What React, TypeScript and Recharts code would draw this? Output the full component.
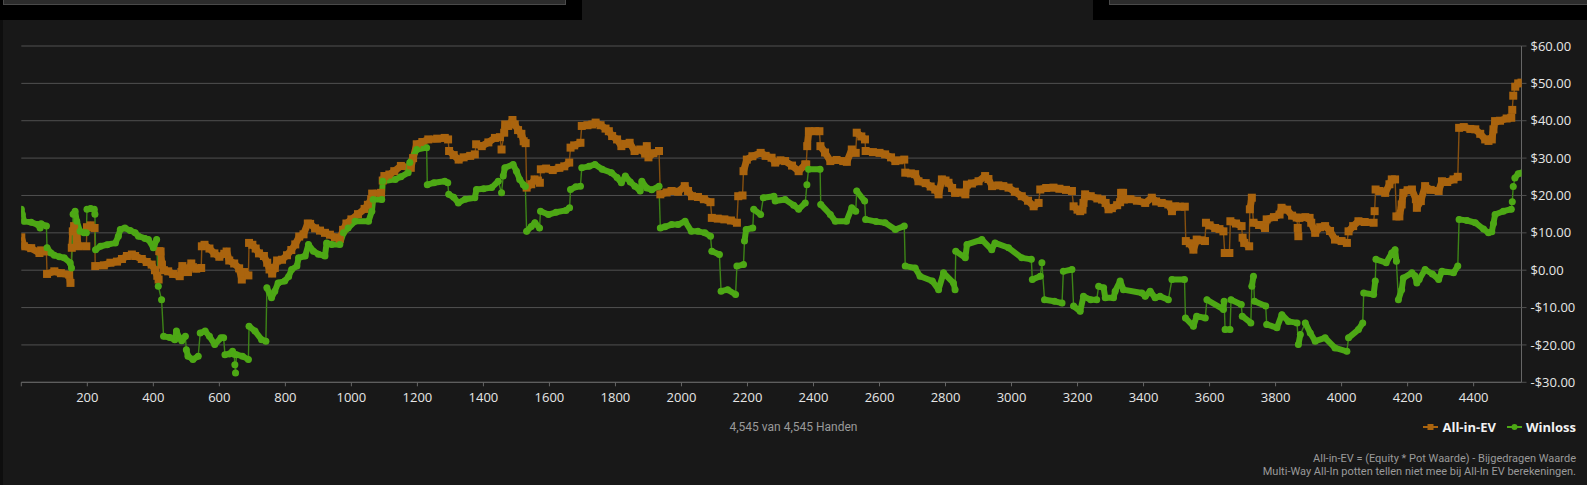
import { CartesianGrid, Legend, Line, LineChart, XAxis, YAxis } from 'recharts'

const EV_COLOR = '#aa640e'
const EV_LINK = '#87500f'
const WIN_COLOR = '#4da815'
const WIN_LINK = '#3d8417'

const HAND_TICKS = [0, 200, 400, 600, 800, 1000, 1200, 1400, 1600, 1800, 2000, 2200, 2400, 2600, 2800, 3000, 3200, 3400, 3600, 3800, 4000, 4200, 4400]
const DOLLAR_TICKS = [-30, -20, -10, 0, 10, 20, 30, 40, 50, 60]

// each run is a stretch of consecutive all-in hands; a new run starts after a big jump
const EV_RUNS: [number, number][][] = [
  [[0, 8.8], [8, 6.4], [30, 5.9], [55, 4.6], [60, 5.3], [76, 5.0]],
  [[78, -1.0], [100, -0.3], [120, -0.8], [145, -1.2], [149, -3.4]],
  [[153, 6.0], [156, 10.4], [160, 11.8], [168, 9.0], [173, 6.4], [197, 6.4]],
  [[199, 11.5], [210, 12.0], [222, 11.3]],
  [[224, 1.1], [250, 1.3], [270, 2.0], [290, 2.3], [305, 3.0], [320, 3.8], [335, 4.2], [345, 3.8], [365, 3.0], [380, 2.2], [395, 1.5], [405, 0.0], [412, -1.5], [416, -2.5]],
  [[418, 5.1], [422, 5.0], [426, 1.5], [432, 0.0], [445, -0.3], [460, -1.0], [480, -1.6], [485, -0.5], [488, 1.1], [495, 0.5], [505, -0.5], [515, 1.8], [520, 0.8], [530, 0.4], [545, 0.6]],
  [[547, 6.4], [555, 6.8], [570, 5.8], [585, 4.5], [600, 3.6], [615, 4.4], [622, 5.0], [630, 2.6], [645, 1.8], [660, 0.5], [668, -2.5], [675, -0.5], [688, -1.4]],
  [[690, 7.3], [700, 6.8], [710, 5.8], [720, 4.5], [735, 3.8], [745, 2.0], [752, 0.2], [760, -0.9], [768, 0.6], [775, 2.6], [790, 2.8], [805, 4.0], [818, 5.4], [830, 6.9], [842, 9.0], [855, 9.6], [868, 12.5], [875, 12.4], [890, 11.2], [905, 10.6], [920, 10.0], [935, 9.5], [950, 8.8], [965, 8.4], [975, 10.8], [985, 12.5], [1000, 13.6], [1020, 15.0], [1040, 16.4], [1050, 17.5], [1060, 19.0]],
  [[1063, 20.5], [1090, 20.7]],
  [[1095, 24.0], [1100, 25.2], [1115, 25.6], [1130, 26.5], [1150, 27.9], [1180, 27.4], [1187, 30.0], [1198, 33.7], [1215, 34.3], [1233, 35.0], [1260, 35.2], [1283, 35.4], [1293, 35.0]],
  [[1296, 31.9], [1310, 30.8], [1325, 29.6], [1340, 30.2], [1360, 30.6], [1374, 31.0]],
  [[1378, 33.7], [1395, 33.2], [1415, 34.2], [1435, 35.4], [1450, 35.6]],
  [[1455, 32.3]],
  [[1463, 36.8], [1466, 39.0], [1475, 38.6], [1488, 40.2], [1495, 39.0], [1505, 37.5], [1515, 36.5], [1522, 34.5], [1528, 34.0]],
  [[1531, 22.1], [1545, 23.0], [1555, 24.3], [1565, 24.0], [1571, 23.4]],
  [[1574, 27.0], [1590, 27.2], [1610, 26.8], [1630, 27.4], [1645, 27.8], [1660, 28.8]],
  [[1664, 32.8], [1675, 33.4], [1694, 34.1]],
  [[1698, 38.6], [1715, 38.8], [1730, 39.0], [1740, 39.5], [1755, 38.8], [1770, 37.9], [1780, 37.2], [1790, 35.9], [1805, 35.0], [1818, 33.2], [1830, 33.8], [1843, 34.1], [1858, 31.9], [1875, 32.3], [1890, 31.2], [1895, 33.2], [1900, 30.2], [1915, 31.3], [1932, 31.9]],
  [[1936, 20.3], [1955, 20.8], [1970, 21.2], [1990, 21.0], [2010, 22.5], [2020, 21.2], [2032, 19.8], [2050, 19.6], [2068, 19.0], [2088, 18.2]],
  [[2092, 14.0], [2110, 13.8], [2130, 13.6], [2150, 13.3], [2168, 12.7]],
  [[2172, 19.8], [2185, 20.0]],
  [[2188, 26.5], [2198, 29.6], [2215, 30.5], [2240, 31.4], [2255, 30.6], [2273, 30.1], [2284, 28.8], [2300, 29.4], [2314, 29.2], [2335, 28.0], [2355, 26.5], [2375, 28.3], [2378, 28.3]],
  [[2381, 33.2], [2386, 37.2], [2405, 37.2], [2418, 37.2]],
  [[2421, 33.2], [2435, 31.5], [2451, 29.2], [2470, 29.5], [2490, 29.2], [2501, 29.0], [2516, 32.3], [2528, 31.4]],
  [[2531, 36.8], [2545, 35.8], [2556, 35.0]],
  [[2558, 31.9], [2580, 31.6], [2600, 31.4], [2617, 31.0], [2635, 30.2], [2648, 29.2], [2660, 29.4], [2675, 29.6]],
  [[2678, 26.1], [2695, 25.9], [2708, 25.7], [2718, 23.8], [2740, 23.3], [2755, 22.4], [2769, 21.6], [2779, 20.3], [2789, 24.3], [2800, 24.0], [2809, 23.4], [2820, 22.0], [2829, 20.7], [2845, 20.8], [2860, 20.3], [2865, 22.9], [2880, 23.2], [2900, 23.8], [2920, 25.2], [2930, 24.4], [2941, 22.5], [2960, 22.7], [2975, 22.5], [2991, 22.1], [3010, 21.0], [3031, 19.8], [3050, 18.6], [3067, 17.1], [3082, 18.0]],
  [[3087, 21.6], [3105, 22.0], [3127, 22.1], [3145, 21.8], [3165, 21.5], [3183, 21.2]],
  [[3188, 17.1], [3200, 16.2], [3208, 15.8], [3215, 16.2], [3218, 18.0], [3223, 20.3], [3240, 19.8], [3260, 19.2], [3274, 18.9], [3285, 18.0], [3294, 16.3], [3304, 16.6], [3320, 17.4], [3329, 18.2], [3332, 20.7], [3338, 20.7], [3340, 18.9], [3360, 19.0], [3380, 18.6], [3405, 18.0], [3425, 19.4], [3438, 18.4], [3455, 18.0], [3475, 17.6], [3486, 15.8], [3496, 17.1], [3510, 17.0], [3525, 17.0]],
  [[3528, 7.8], [3540, 7.2], [3551, 5.5], [3561, 8.2], [3575, 8.0], [3586, 7.8]],
  [[3589, 12.7], [3600, 12.0], [3617, 11.3], [3630, 11.0], [3642, 10.4]],
  [[3646, 4.6], [3660, 4.6]],
  [[3663, 13.1], [3680, 12.5], [3697, 11.8]],
  [[3700, 8.7], [3705, 7.3], [3720, 6.4]],
  [[3722, 16.3], [3728, 19.4]],
  [[3733, 12.7], [3750, 12.1], [3768, 11.3], [3773, 13.6], [3795, 14.2], [3812, 14.9], [3818, 16.7], [3835, 16.2], [3850, 14.6], [3864, 14.1]],
  [[3867, 11.3], [3869, 9.1]],
  [[3872, 14.0], [3890, 14.2], [3903, 14.0], [3908, 12.7], [3920, 10.0], [3935, 11.5], [3950, 11.8], [3965, 10.5], [3980, 8.2], [4000, 7.8], [4016, 7.3]],
  [[4021, 10.4], [4035, 11.8], [4051, 13.1], [4070, 12.9], [4097, 12.7]],
  [[4100, 15.8]],
  [[4103, 21.6], [4115, 21.2], [4132, 20.7], [4145, 23.0], [4152, 24.3], [4162, 24.3]],
  [[4166, 14.4], [4175, 14.4], [4182, 17.6], [4187, 20.7], [4200, 21.4], [4213, 21.6], [4225, 19.0], [4228, 16.7], [4240, 18.5], [4253, 22.5], [4270, 21.5], [4294, 21.2], [4304, 23.8], [4320, 23.6], [4339, 24.3], [4352, 25.0]],
  [[4356, 38.1], [4370, 38.3], [4390, 37.8], [4405, 37.7], [4420, 36.5], [4435, 35.0], [4445, 34.6], [4455, 35.0], [4460, 37.7], [4465, 39.9], [4480, 40.0], [4500, 40.6], [4514, 40.8]],
  [[4517, 42.9]],
  [[4520, 46.7]],
  [[4526, 49.1], [4535, 50.0], [4545, 50.2]],
]

const WINLOSS_RUNS: [number, number][][] = [
  [[0, 16.3], [3, 15.0], [8, 13.1], [30, 12.8], [50, 12.2], [57, 11.3], [60, 12.4], [76, 11.8]],
  [[78, 6.0], [90, 4.6], [100, 4.0], [115, 3.6], [130, 3.3], [148, 2.0], [152, 0.6]],
  [[157, 15.0], [163, 15.8], [168, 13.1], [178, 10.4], [190, 10.0], [197, 10.0]],
  [[199, 16.3], [210, 16.5], [221, 16.3], [223, 15.0]],
  [[225, 5.5], [240, 6.4], [260, 6.8], [285, 7.3], [294, 9.1], [300, 10.9], [314, 11.3], [330, 10.6], [345, 10.0], [355, 9.1], [375, 8.5], [385, 8.2], [400, 6.0], [410, 8.2]],
  [[415, -4.3]],
  [[425, -7.9]],
  [[431, -17.7], [450, -18.0], [465, -18.6], [470, -16.3], [478, -18.0], [486, -18.9], [497, -17.7]],
  [[500, -21.3], [505, -23.0], [520, -23.9], [536, -23.0]],
  [[542, -16.8], [557, -16.3], [570, -17.7], [586, -19.9], [605, -18.1], [613, -18.1]],
  [[617, -22.6], [630, -22.4], [640, -21.7], [645, -22.5]],
  [[647, -25.3]],
  [[649, -27.5]],
  [[652, -22.6], [670, -23.0], [688, -23.9]],
  [[690, -15.0], [708, -16.3], [728, -18.6], [741, -19.0]],
  [[744, -4.7], [758, -7.4], [768, -5.6], [778, -3.4], [798, -2.9], [810, -1.7], [819, 0.2], [835, 1.1], [840, 3.3], [860, 3.8], [870, 6.9], [885, 5.1], [900, 4.3], [920, 3.8], [925, 7.3], [940, 6.9], [965, 6.9], [976, 10.0], [990, 11.3], [1011, 13.1], [1052, 13.1], [1062, 15.8], [1066, 18.9], [1092, 18.9], [1095, 23.8], [1133, 24.3], [1150, 25.0], [1172, 26.1], [1177, 28.8], [1198, 32.3], [1228, 32.8]],
  [[1230, 22.9], [1250, 23.4], [1283, 23.8], [1292, 23.4]],
  [[1295, 20.3], [1310, 19.5], [1324, 18.0], [1345, 19.0], [1374, 19.4], [1379, 21.6], [1400, 21.8], [1425, 22.1], [1445, 23.8]],
  [[1455, 20.7]],
  [[1460, 25.2], [1465, 27.4], [1490, 28.3], [1500, 26.5], [1510, 24.3], [1521, 22.9], [1527, 22.4]],
  [[1531, 10.4], [1545, 11.7], [1556, 12.7], [1570, 11.3]],
  [[1573, 15.8], [1597, 14.9], [1620, 15.5], [1650, 16.0], [1661, 16.7]],
  [[1664, 21.6], [1680, 22.3], [1694, 22.5]],
  [[1698, 27.4], [1720, 27.8], [1738, 28.3], [1760, 27.0], [1788, 26.1], [1805, 24.8], [1818, 23.4], [1830, 25.2], [1845, 23.6], [1859, 22.5], [1875, 21.2], [1880, 23.8], [1895, 22.0], [1910, 21.5], [1932, 22.5]],
  [[1936, 11.3], [1950, 11.6], [1970, 12.2], [1990, 12.2], [2011, 13.1], [2030, 10.4], [2050, 10.4], [2071, 10.0], [2088, 9.1]],
  [[2092, 5.1], [2115, 4.2]],
  [[2120, -5.6], [2140, -5.2], [2164, -6.5]],
  [[2168, 1.1], [2188, 1.5]],
  [[2191, 7.8], [2196, 10.9], [2216, 11.3]],
  [[2219, 16.3], [2240, 14.9]],
  [[2248, 19.4], [2280, 19.8], [2284, 18.5], [2314, 18.9], [2340, 17.4], [2355, 16.3], [2375, 18.0]],
  [[2380, 22.9]],
  [[2385, 27.0], [2420, 27.0]],
  [[2422, 17.6], [2451, 14.9], [2466, 13.1], [2500, 13.1], [2516, 16.7], [2528, 15.8]],
  [[2531, 21.2], [2555, 18.5]],
  [[2558, 13.6], [2590, 13.0], [2617, 12.7], [2648, 10.9], [2675, 11.8]],
  [[2678, 1.1], [2708, 0.6], [2723, -1.6], [2760, -2.9], [2779, -5.2], [2794, -0.7], [2824, -3.4], [2829, -5.2]],
  [[2831, 5.1], [2860, 3.3], [2865, 6.9], [2910, 8.2], [2940, 5.5], [2950, 7.3], [2991, 6.0], [3031, 3.3], [3060, 2.9]],
  [[3063, -2.5], [3087, -1.6]],
  [[3092, 2.0]],
  [[3100, -7.9], [3130, -8.3], [3153, -8.8]],
  [[3157, -0.3], [3183, 0.2]],
  [[3188, -9.6], [3208, -11.0], [3218, -7.0], [3240, -7.9], [3258, -7.9]],
  [[3264, -4.3], [3279, -4.7], [3284, -7.4], [3309, -7.4], [3314, -5.6], [3329, -2.9], [3339, -5.2], [3395, -6.1], [3405, -7.0], [3420, -5.6], [3435, -7.4], [3450, -7.0], [3475, -7.9]],
  [[3486, -2.5], [3524, -2.5]],
  [[3527, -12.8], [3551, -15.0], [3561, -12.3], [3587, -12.8]],
  [[3592, -7.9], [3642, -10.5], [3644, -8.3]],
  [[3647, -15.9], [3662, -15.9]],
  [[3665, -7.9], [3696, -9.2]],
  [[3699, -12.3], [3725, -14.1]],
  [[3728, -4.3], [3733, -1.6]],
  [[3736, -8.3], [3770, -9.6]],
  [[3773, -14.5], [3804, -15.4], [3819, -11.9], [3839, -13.7], [3865, -14.1]],
  [[3869, -19.9], [3875, -17.2]],
  [[3890, -14.1], [3905, -16.8], [3920, -19.0], [3950, -18.1], [3980, -20.8], [4016, -21.7]],
  [[4021, -18.1], [4051, -15.9], [4064, -14.1]],
  [[4067, -6.1], [4097, -6.5], [4102, -2.9]],
  [[4104, 2.9], [4135, 2.0], [4152, 4.6], [4162, 5.5], [4166, 2.4]],
  [[4172, -7.9], [4182, -5.2], [4187, -2.1], [4213, -0.7], [4222, -1.5], [4228, -3.4], [4235, -2.5], [4253, 0.2], [4275, -1.0], [4294, -2.5], [4304, -0.3], [4339, -0.7], [4352, 1.1]],
  [[4356, 13.6], [4380, 13.3], [4405, 12.7], [4430, 11.0], [4445, 10.0], [4455, 10.3], [4460, 12.5], [4465, 14.9], [4490, 15.8], [4514, 16.3]],
  [[4517, 18.3]],
  [[4520, 22.4]],
  [[4525, 24.7], [4535, 25.8], [4545, 26.0]],
]

type Row = { hand: number; value: number | null; band: number | null }

// thin line joins everything (connectNulls), thick band breaks on the null row between runs
function toRows(runs: [number, number][][]): Row[] {
  const rows: Row[] = []
  runs.forEach((run, i) => {
    if (i > 0) rows.push({ hand: run[0][0], value: null, band: null })
    run.forEach(([hand, v]) => rows.push({ hand, value: v, band: v }))
  })
  return rows
}

const evRows = toRows(EV_RUNS)
const winRows = toRows(WINLOSS_RUNS)

const formatDollar = (v: number) => `${v < 0 ? '-' : ''}$${Math.abs(v).toFixed(2)}`

function evDot(props: any) {
  const { cx, cy, index } = props
  if (cx == null || cy == null || props.value == null) return <g key={`ev-${index}`} />
  return <rect key={`ev-${index}`} x={cx - 4} y={cy - 4} width={8} height={8} fill={EV_COLOR} />
}

function winDot(props: any) {
  const { cx, cy, index } = props
  if (cx == null || cy == null || props.value == null) return <g key={`win-${index}`} />
  return <circle key={`win-${index}`} cx={cx} cy={cy} r={3.5} fill={WIN_COLOR} />
}

function LegendContent() {
  const item = (label: string, color: string, square: boolean) => (
    <span style={{ display: 'inline-flex', alignItems: 'center', marginLeft: 11 }}>
      <svg width={15} height={8} style={{ marginRight: 4 }}>
        <line x1={0} y1={4} x2={15} y2={4} stroke={color} strokeWidth={2} />
        {square ? <rect x={4.5} y={1} width={6} height={6} fill={color} /> : <circle cx={7.5} cy={4} r={3} fill={color} />}
      </svg>
      {label}
    </span>
  )
  return (
    <div style={{ display: 'flex', justifyContent: 'flex-end', fontWeight: 700, fontSize: 13, color: '#f2f2f2' }}>
      {item('All-in-EV', EV_COLOR, true)}
      {item('Winloss', WIN_COLOR, false)}
    </div>
  )
}

export default function App() {
  return (
    <div style={{ position: 'absolute', left: 0, top: 0, width: 1587, height: 485, background: '#181818', fontFamily: '"Open Sans", sans-serif', overflow: 'hidden' }}>
      <div style={{ position: 'absolute', left: 0, top: 0, width: 582, height: 20, background: '#000' }} />
      <div style={{ position: 'absolute', left: 3, top: -2, width: 561, height: 5, background: '#2c2c2c', border: '1px solid #4a4a4a' }} />
      <div style={{ position: 'absolute', left: 1093, top: 0, width: 494, height: 20, background: '#000' }} />
      <div style={{ position: 'absolute', left: 1109, top: -2, width: 490, height: 5, background: '#2c2c2c', border: '1px solid #4a4a4a' }} />
      <div style={{ position: 'absolute', left: 0, top: 20, width: 3, height: 465, background: '#0e0e0e' }} />

      <div style={{ position: 'absolute', left: 0, top: 0 }}>
        <LineChart width={1587} height={485} margin={{ top: 46, right: 5.5, bottom: 72.7, left: 21.3 }}>
          <CartesianGrid horizontal vertical={false} stroke="#505050" />
          <XAxis
            type="number"
            dataKey="hand"
            domain={[0, 4545]}
            ticks={HAND_TICKS}
            interval={0}
            allowDataOverflow
            height={30}
            tickSize={4}
            tickMargin={6}
            tickFormatter={(v: number) => (v === 0 ? '' : String(v))}
            tick={{ fill: '#e6e6e6', fontSize: 13 }}
            axisLine={{ stroke: '#666' }}
            tickLine={{ stroke: '#666' }}
          />
          <YAxis
            orientation="right"
            type="number"
            domain={[-30, 60]}
            ticks={DOLLAR_TICKS}
            interval={0}
            width={60}
            tickSize={5}
            tickMargin={4}
            tickFormatter={formatDollar}
            tick={{ fill: '#e6e6e6', fontSize: 13, textAnchor: 'start' }}
            axisLine={{ stroke: '#666' }}
            tickLine={{ stroke: '#505050' }}
          />
          <Legend
            layout="horizontal"
            verticalAlign="middle"
            align="center"
            wrapperStyle={{ position: 'absolute', top: 418, left: 1287, width: 289, height: 20 }}
            content={() => <LegendContent />}
          />
          <Line data={evRows} dataKey="value" name="All-in-EV link" stroke={EV_LINK} strokeWidth={1.4} connectNulls dot={false} activeDot={false} legendType="none" isAnimationActive={false} />
          <Line data={evRows} dataKey="band" name="All-in-EV" stroke={EV_COLOR} strokeWidth={7} strokeLinejoin="round" connectNulls={false} dot={evDot} activeDot={false} isAnimationActive={false} />
          <Line data={winRows} dataKey="value" name="Winloss link" stroke={WIN_LINK} strokeWidth={1.4} connectNulls dot={false} activeDot={false} legendType="none" isAnimationActive={false} />
          <Line data={winRows} dataKey="band" name="Winloss" stroke={WIN_COLOR} strokeWidth={6} strokeLinejoin="round" strokeLinecap="round" connectNulls={false} dot={winDot} activeDot={false} isAnimationActive={false} />
        </LineChart>
      </div>

      <div style={{ position: 'absolute', left: 0, width: 1587, top: 420, textAlign: 'center', fontSize: 12, color: '#9a9a9a', fontFamily: 'Roboto, sans-serif' }}>
        4,545 van 4,545 Handen
      </div>
      <div style={{ position: 'absolute', right: 11, top: 452, textAlign: 'right', fontSize: 11, lineHeight: '13px', color: '#9a9a9a', fontFamily: 'Roboto, sans-serif' }}>
        <div>All-in-EV = (Equity * Pot Waarde) - Bijgedragen Waarde</div>
        <div>Multi-Way All-In potten tellen niet mee bij All-In EV berekeningen.</div>
      </div>
    </div>
  )
}
